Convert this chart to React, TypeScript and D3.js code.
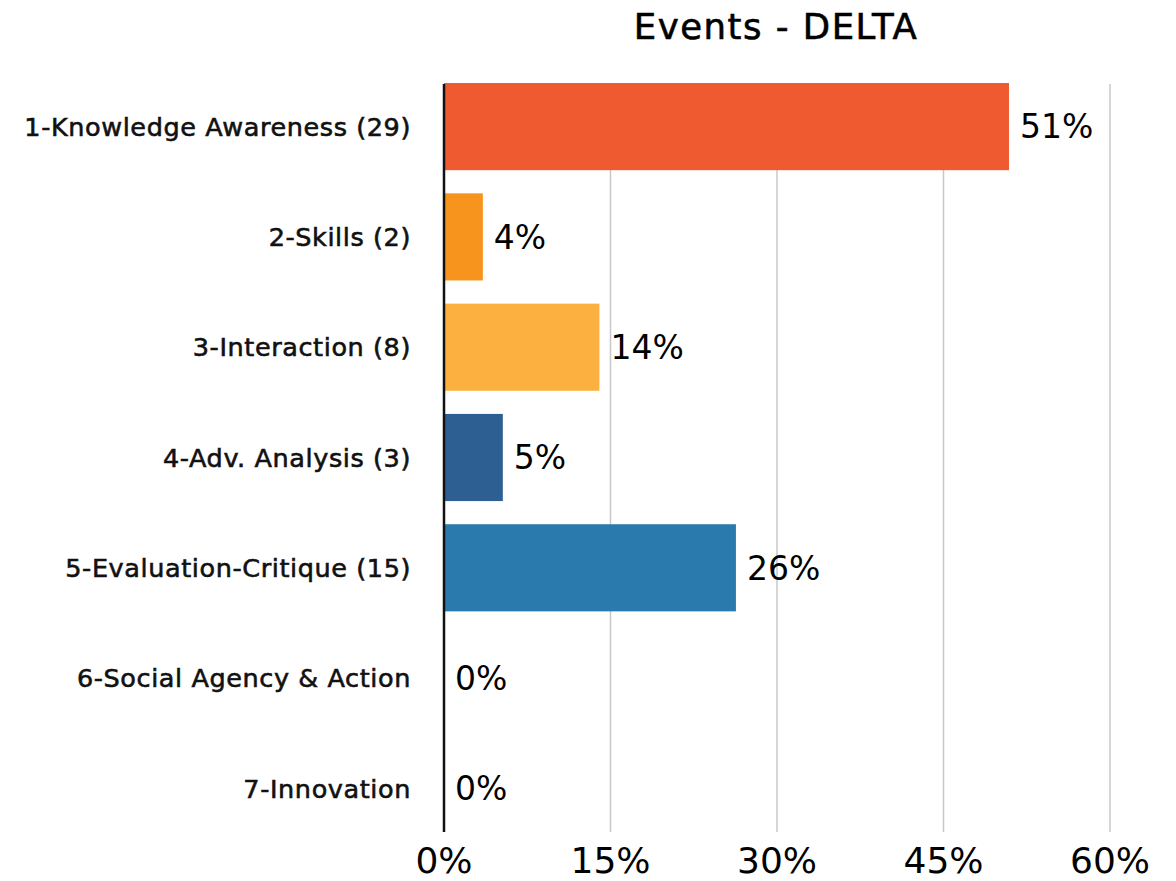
import React from "react";
import * as d3 from "d3";

const categories = [
  "1-Knowledge Awareness (29)",
  "2-Skills (2)",
  "3-Interaction (8)",
  "4-Adv. Analysis (3)",
  "5-Evaluation-Critique (15)",
  "6-Social Agency & Action",
  "7-Innovation",
];
const values = [50.9, 3.5, 14.0, 5.3, 26.3, 0, 0];
const valueLabels = ["51%", "4%", "14%", "5%", "26%", "0%", "0%"];
const colors = ["#F05A30", "#F7941D", "#FBB040", "#2E5F93", "#2A7AAE", "#2A7AAE", "#2A7AAE"];
const ticks = [0, 15, 30, 45, 60];

const W = 1176;
const H = 881;
const FONT = "'DejaVu Sans', sans-serif";

export default function App() {
  const x = d3.scaleLinear().domain([0, 60]).range([444, 1110]);
  const y = d3.scaleBand<string>().domain(categories).range([72, 843]).paddingInner(0.21).paddingOuter(0.1);
  return (
    <svg width={W} height={H} style={{ position: "absolute", left: 0, top: 0, background: "#fff" }}>
      <text
        x={776}
        y={39}
        textAnchor="middle"
        fontFamily={FONT}
        fontSize={35.5}
        letterSpacing={1.5}
        stroke="#000"
        strokeWidth={0.6}
        fill="#000"
      >
        Events - DELTA
      </text>
      {ticks.slice(1).map((t) => (
        <line key={t} x1={x(t)} x2={x(t)} y1={84} y2={832} stroke="#c8c8c8" strokeWidth={1.5} />
      ))}
      {categories.map((c, i) => (
        <g key={c}>
          <rect x={x(0)} y={y(c)!} width={x(values[i]) - x(0)} height={y.bandwidth()} fill={colors[i]} />
          <text
            x={x(values[i]) + 11}
            y={y(c)! + y.bandwidth() / 2}
            dy="0.36em"
            fontFamily={FONT}
            fontSize={33}
            fill="#000"
          >
            {valueLabels[i]}
          </text>
          <text
            x={411}
            y={y(c)! + y.bandwidth() / 2}
            dy="0.36em"
            textAnchor="end"
            fontFamily={FONT}
            fontSize={25.5}
            letterSpacing={0.6}
            stroke="#111"
            strokeWidth={0.6}
            fill="#111"
          >
            {c}
          </text>
        </g>
      ))}
      <line x1={x(0)} x2={x(0)} y1={84} y2={832} stroke="#111" strokeWidth={2.5} />
      {ticks.map((t) => (
        <text key={t} x={x(t)} y={873} textAnchor="middle" fontFamily={FONT} fontSize={36} fill="#000">
          {t + "%"}
        </text>
      ))}
    </svg>
  );
}
